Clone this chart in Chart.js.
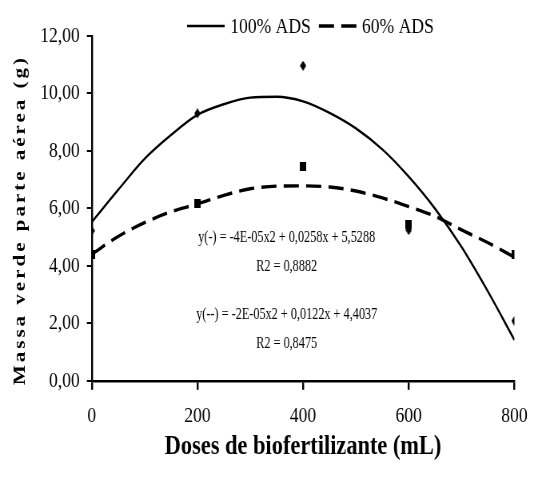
<!DOCTYPE html>
<html>
<head>
<meta charset="utf-8">
<script src="https://cdn.jsdelivr.net/npm/chart.js@4.4.1/dist/chart.umd.min.js"></script>
<style>
  html, body { margin: 0; padding: 0; background: #fff; overflow: hidden; }
  #wrap { width: 538px; height: 479px; overflow: hidden; }
  /* the original figure is squeezed sideways, so the canvas is too */
  #chart { transform: scaleX(0.7994); transform-origin: 0 0; }
</style>
</head>
<body>
<div id="wrap">
  <canvas id="chart" width="673" height="479" style="width:673px;height:479px"></canvas>
</div>
<script>
// observed values
const doses = [0, 200, 400, 600, 800];
const obs100 = [5.22, 9.30, 10.96, 5.24, 2.08];
const obs60 = [4.38, 6.15, 7.47, 5.45, 4.41];

// fitted curves
const fitDoses = [0, 50, 100, 150, 200, 250, 300, 350, 400, 450, 500, 550, 600, 650, 700, 750, 800];
const fit100 = [5.52, 6.64, 7.72, 8.55, 9.25, 9.62, 9.85, 9.88, 9.72, 9.32, 8.78, 8.05, 7.1, 5.98, 4.65, 3.1, 1.42];
const fit60 = [4.40, 5.02, 5.50, 5.88, 6.15, 6.45, 6.68, 6.77, 6.78, 6.74, 6.60, 6.36, 6.06, 5.72, 5.25, 4.80, 4.30];

const seriesNames = ['100% ADS', '60% ADS'];
const xTicks = [0, 200, 400, 600, 800];
const yTicks = [0, 2, 4, 6, 8, 10, 12];

const xTitle = 'Doses de biofertilizante (mL)';
const yTitle = 'Massa verde parte aérea (g)';
const notes = [
  { text: 'y(-) = -4E-05x2 + 0,0258x + 5,5288', x: 369, y: 4.98 },
  { text: 'R2 = 0,8882', x: 369, y: 3.99 },
  { text: 'y(--) = -2E-05x2 + 0,0122x + 4,4037', x: 369, y: 2.32 },
  { text: 'R2 = 0,8475', x: 369, y: 1.31 }
];

const serif = '"Liberation Serif", "Times New Roman", serif';
const dash = [19, 9];

function pairs(xs, ys) {
  return xs.map((x, i) => ({ x: x, y: ys[i] }));
}

// small canvases used as point styles (taller than wide, like the original)
function marker(kind, w, h) {
  const c = document.createElement('canvas');
  c.width = w;
  c.height = h;
  const g = c.getContext('2d');
  g.fillStyle = '#000';
  g.beginPath();
  if (kind === 'diamond') {
    g.moveTo(w / 2, 0);
    g.lineTo(w, h / 2);
    g.lineTo(w / 2, h);
    g.lineTo(0, h / 2);
    g.closePath();
  } else {
    g.rect(0, 0, w, h);
  }
  g.fill();
  return c;
}

// legend, axis title and equations drawn straight onto the canvas
const extras = {
  id: 'extras',
  afterDraw(chart) {
    const ctx = chart.ctx;
    const xs = chart.scales.x, ys = chart.scales.y;
    ctx.save();
    ctx.fillStyle = '#000';
    ctx.strokeStyle = '#000';

    // legend
    ctx.font = '22px ' + serif;
    ctx.textBaseline = 'middle';
    ctx.textAlign = 'left';
    let lx = 234;
    const ly = 26;
    seriesNames.forEach((name, i) => {
      ctx.beginPath();
      ctx.lineWidth = i === 0 ? 2.4 : 3.4;
      ctx.setLineDash(i === 0 ? [] : dash);
      ctx.moveTo(lx, ly);
      ctx.lineTo(lx + 47, ly);
      ctx.stroke();
      ctx.setLineDash([]);
      ctx.fillText(name, lx + 54, ly + 1);
      lx += 54 + ctx.measureText(name).width + 10;
    });

    // y axis title, spaced out letters
    ctx.save();
    ctx.translate(25.6, 220);
    ctx.rotate(-Math.PI / 2);
    ctx.font = 'bold 21px ' + serif;
    ctx.letterSpacing = '3px';
    ctx.textAlign = 'center';
    ctx.fillText(yTitle, 0, 0);
    ctx.restore();

    // equations
    ctx.font = '17px ' + serif;
    ctx.textAlign = 'center';
    notes.forEach(n => {
      ctx.save();
      ctx.translate(xs.getPixelForValue(n.x), ys.getPixelForValue(n.y));
      ctx.scale(0.9, 1);
      ctx.fillText(n.text, 0, 0);
      ctx.restore();
    });
    ctx.restore();
  }
};

const ctx = document.getElementById('chart').getContext('2d');
const chart = new Chart(ctx, {
  type: 'scatter',
  data: {
    datasets: [
      {
        label: seriesNames[0] + ' obs',
        data: pairs(doses, obs100),
        pointStyle: marker('diamond', 8, 10),
        pointRadius: 5,
        backgroundColor: '#000',
        borderColor: '#000',
        borderWidth: 0
      },
      {
        label: seriesNames[1] + ' obs',
        data: pairs(doses, obs60),
        pointStyle: marker('square', 8, 9),
        pointRadius: 5,
        backgroundColor: '#000',
        borderColor: '#000',
        borderWidth: 0
      },
      {
        type: 'line',
        label: seriesNames[0],
        data: pairs(fitDoses, fit100),
        borderColor: '#000',
        borderWidth: 2.4,
        pointRadius: 0,
        cubicInterpolationMode: 'monotone',
        fill: false
      },
      {
        type: 'line',
        label: seriesNames[1],
        data: pairs(fitDoses, fit60),
        borderColor: '#000',
        borderWidth: 3.4,
        borderDash: dash,
        pointRadius: 0,
        cubicInterpolationMode: 'monotone',
        fill: false
      }
    ]
  },
  options: {
    responsive: false,
    animation: false,
    layout: { padding: { top: 35.8, left: 0, right: 20.4, bottom: 0 } },
    plugins: {
      legend: { display: false },
      tooltip: { enabled: false }
    },
    scales: {
      x: {
        type: 'linear',
        min: 0,
        max: 800,
        afterBuildTicks: (scale) => { scale.ticks = xTicks.map(v => ({ value: v })); },
        afterFit: (scale) => { scale.height = 98.2; },
        border: { display: true, color: '#000', width: 2.4 },
        grid: { drawOnChartArea: false, drawTicks: true, tickLength: 9, color: '#000', lineWidth: 2.4 },
        ticks: {
          color: '#000',
          padding: 13,
          maxRotation: 0,
          font: { family: serif, size: 22 }
        },
        title: {
          display: true,
          text: xTitle,
          color: '#000',
          padding: { top: 0, bottom: 15 },
          font: { family: serif, size: 28, weight: 'bold' }
        }
      },
      y: {
        type: 'linear',
        min: 0,
        max: 12,
        afterBuildTicks: (scale) => { scale.ticks = yTicks.map(v => ({ value: v })); },
        afterFit: (scale) => { scale.width = 114.7; },
        border: { display: true, color: '#000', width: 2.4 },
        grid: { drawOnChartArea: false, drawTicks: true, tickLength: 6, color: '#000', lineWidth: 2 },
        ticks: {
          color: '#000',
          padding: 9,
          font: { family: serif, size: 22 },
          callback: (v) => v.toFixed(2).replace('.', ',')
        }
      }
    }
  },
  plugins: [extras]
});
</script>
</body>
</html>
